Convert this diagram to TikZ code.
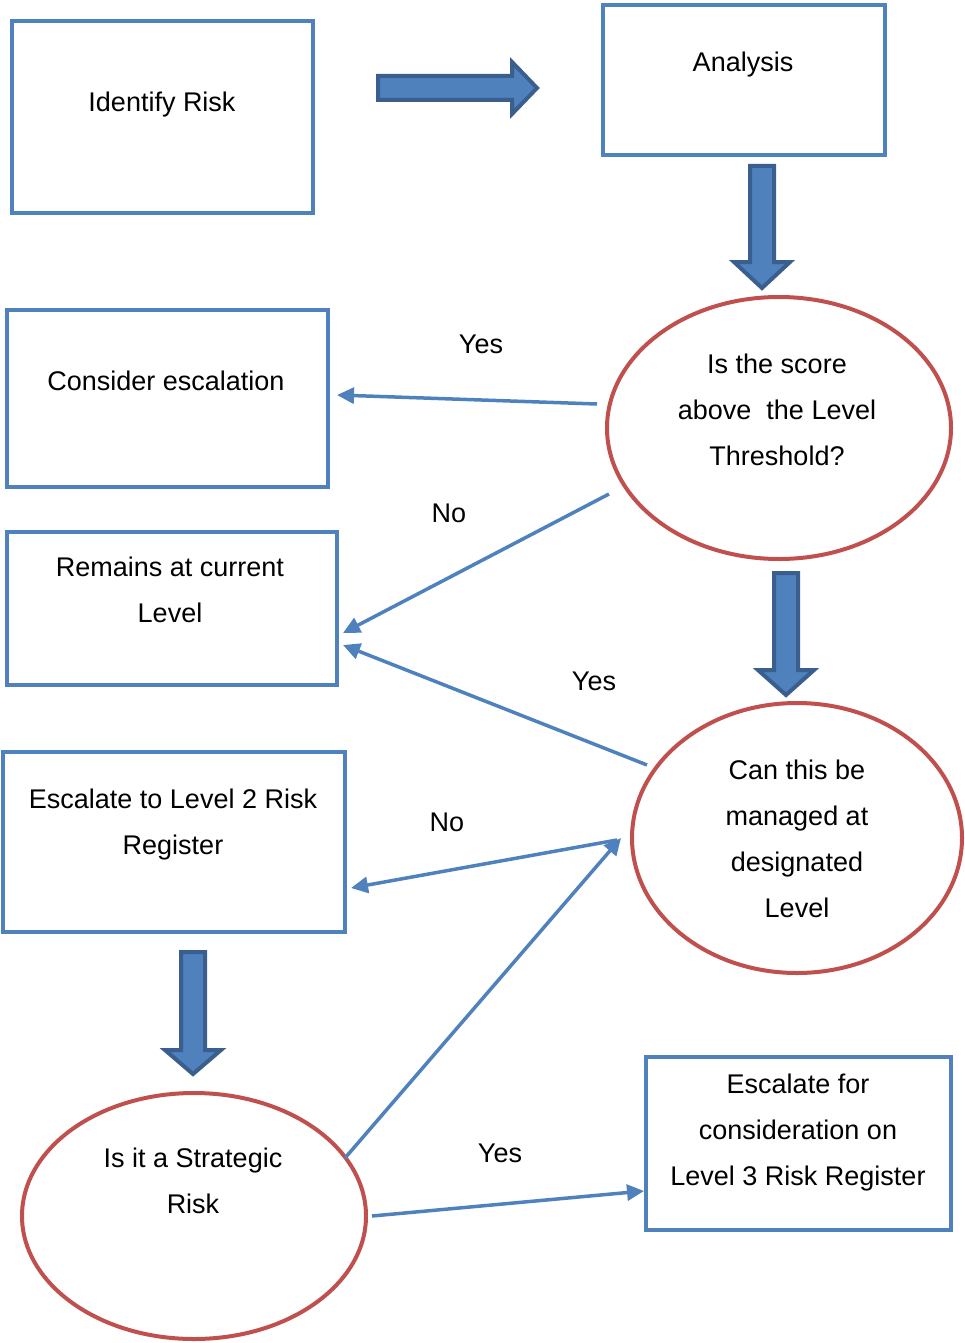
\documentclass[tikz,border=0pt]{standalone}
\usepackage{fontspec}
\setmainfont{Liberation Sans}
\usetikzlibrary{shapes.geometric,arrows.meta}
\definecolor{bblue}{HTML}{4F81BD}
\definecolor{bdark}{HTML}{3A5F8E}
\definecolor{ered}{HTML}{C0504D}
\newcommand{\blkdown}[4]{% cx, ytop, yhead, ytip
  \draw[blk] ({#1-12},#2) -- ({#1+12},#2) -- ({#1+12},#3) -- ({#1+28},#3) -- (#1,#4) -- ({#1-28},#3) -- ({#1-12},#3) -- cycle;}
\begin{document}
\begin{tikzpicture}[x=1pt,y=-1pt,
  box/.style={draw=bblue,line width=4pt,inner sep=0pt,anchor=north west},
  ell/.style={ellipse,draw=ered,line width=4pt,inner sep=0pt},
  txt/.style={font=\fontsize{27}{46}\selectfont,align=center,inner sep=0pt},
  conn/.style={draw=bblue,line width=3.5pt,-{Triangle[length=17pt,width=16pt]}},
  blk/.style={fill=bblue,draw=bdark,line width=4pt,line join=miter}]
\useasboundingbox (0,0) rectangle (965,1343);

% boxes
\node[box,minimum width=301pt,minimum height=192pt] (identify) at (10,19) {};
\node[box,minimum width=282pt,minimum height=150pt] (analysis) at (601,3) {};
\node[box,minimum width=321pt,minimum height=177pt] (consider) at (5,308) {};
\node[box,minimum width=330pt,minimum height=153pt] (remains) at (5,530) {};
\node[box,minimum width=342pt,minimum height=180pt] (esc2) at (1,750) {};
\node[box,minimum width=305pt,minimum height=173pt] (esc3) at (644,1055) {};

% ellipses
\node[ell,minimum width=344pt,minimum height=262pt] (q1) at (779,428) {};
\node[ell,minimum width=330pt,minimum height=270pt] (q2) at (797,838) {};
\node[ell,minimum width=344pt,minimum height=246pt] (q3) at (194,1216) {};

% texts
\node[txt] (tIdentify) at (162,105) {Identify Risk};
\node[txt] (tAnalysis) at (743,65) {Analysis};
\node[txt] (tConsider) at (166,381) {Consider escalation};
\node[txt] (tRemains) at (170,590) {Remains at current\\Level};
\node[txt] (tEsc2) at (173,825) {Escalate to Level 2 Risk\\Register};
\node[txt] (tEsc3) at (798,1133) {Escalate for\\consideration on\\Level 3 Risk Register};
\node[txt] (tQ1) at (777,410) {Is the score\\above\ \ the Level\\Threshold?};
\node[txt] (tQ2) at (797,839) {Can this be\\managed at\\designated\\Level};
\node[txt] (tQ3) at (193,1181) {Is it a Strategic\\Risk};

% labels
\node[txt] (lYes1) at (481,344) {Yes};
\node[txt] (lNo1) at (449,513) {No};
\node[txt] (lYes2) at (594,681) {Yes};
\node[txt] (lNo2) at (447,822) {No};
\node[txt] (lYes3) at (500,1153) {Yes};

% block arrows
\draw[blk] (378,76) -- (512,76) -- (512,62) -- (537,88) -- (512,114) -- (512,100) -- (378,100) -- cycle;
\blkdown{762}{166}{262}{288}
\blkdown{786}{573}{670}{695}
\blkdown{193}{952}{1050}{1074}

% connector endpoints
\coordinate (a1s) at (597,404); \coordinate (a1e) at (337,395);
\coordinate (a2s) at (609,494); \coordinate (a2e) at (343,633);
\coordinate (a3s) at (647,765); \coordinate (a3e) at (343,645);
\coordinate (a4s) at (617,840); \coordinate (a4e) at (351,888);
\coordinate (a5s) at (345,1158); \coordinate (a5e) at (621,838);
\coordinate (a6s) at (372,1216); \coordinate (a6e) at (644,1191);

\draw[conn] (a1s) -- (a1e);
\draw[conn] (a2s) -- (a2e);
\draw[conn] (a3s) -- (a3e);
\draw[conn] (a4s) -- (a4e);
\draw[conn] (a5s) -- (a5e);
\draw[conn] (a6s) -- (a6e);
\end{tikzpicture}
\end{document}
